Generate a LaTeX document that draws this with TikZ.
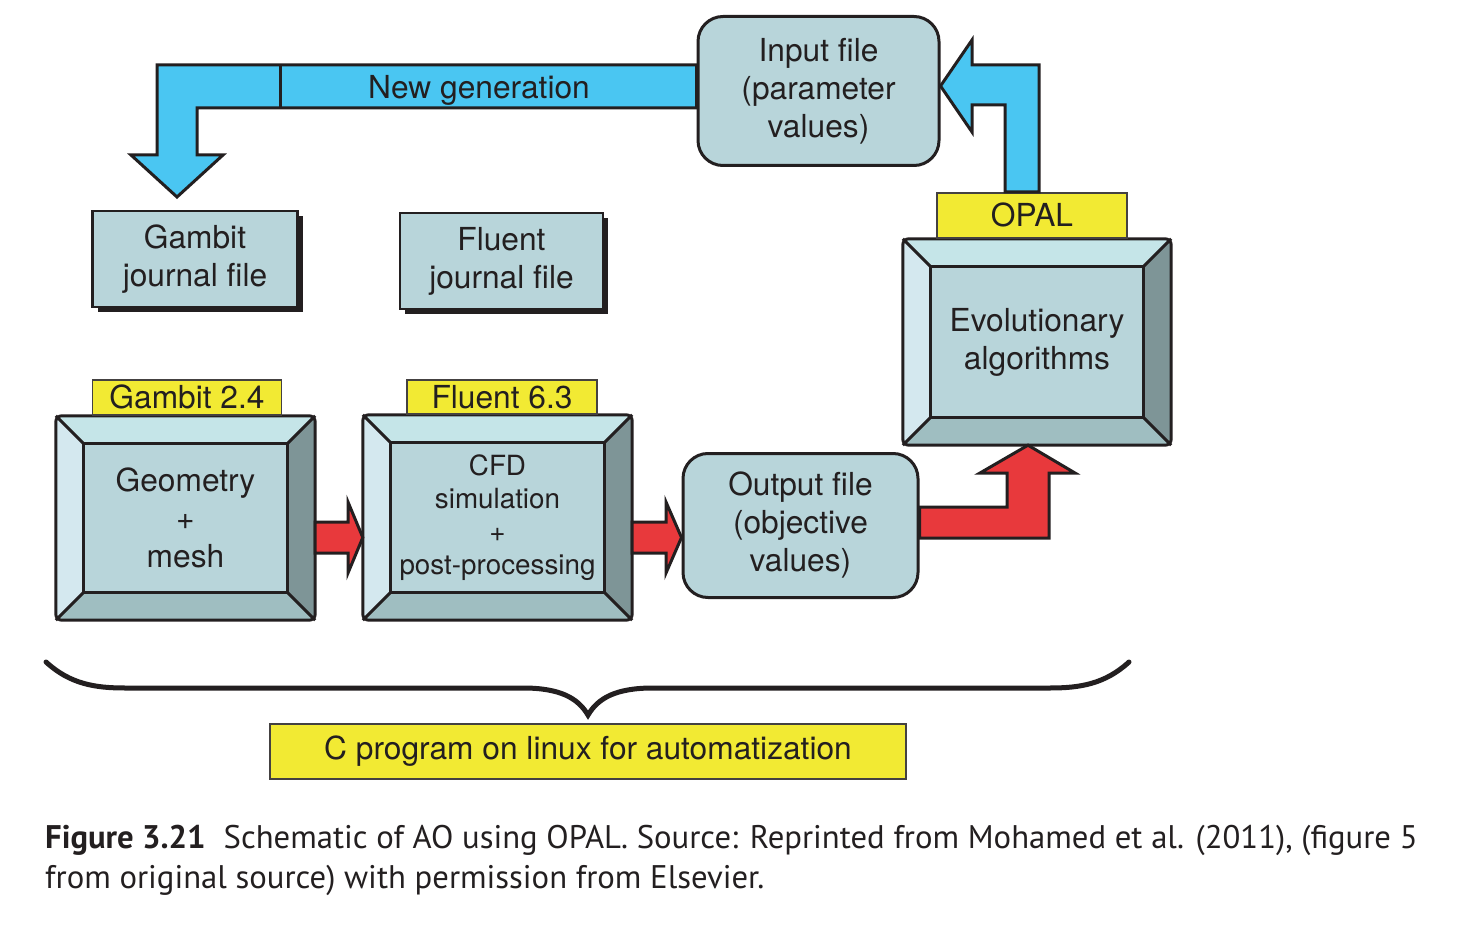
\documentclass[tikz,border=0pt]{standalone}
\usepackage{fontspec}
\setmainfont{TeX Gyre Heros}
\newfontfamily\capfont{PT Sans}
\usetikzlibrary{positioning,backgrounds,shadows}
\definecolor{ink}{HTML}{231F20}
\definecolor{face}{HTML}{B8D5DA}
\definecolor{bevtop}{HTML}{C5E5E8}
\definecolor{bevleft}{HTML}{D4E8EF}
\definecolor{bevright}{HTML}{7E9597}
\definecolor{bevbot}{HTML}{9FBEC1}
\definecolor{tagyellow}{HTML}{F2EA33}
\definecolor{arrblue}{HTML}{4AC6F2}
\definecolor{arrred}{HTML}{E8393C}
\def\mainsize{\fontsize{31.7}{38}\selectfont}
\def\cfdsize{\fontsize{27.8}{33}\selectfont}
\def\bevel#1{
  \begin{scope}[on background layer]
    \coordinate (#1a) at ([xshift=28pt,yshift=-28pt]#1.north west);
    \coordinate (#1b) at ([xshift=-28pt,yshift=-28pt]#1.north east);
    \coordinate (#1c) at ([xshift=-28pt,yshift=28pt]#1.south east);
    \coordinate (#1d) at ([xshift=28pt,yshift=28pt]#1.south west);
    \begin{scope}
      \clip[rounded corners=6pt] (#1.north west) rectangle (#1.south east);
      \fill[face] (#1a) rectangle (#1c);
      \fill[bevtop] (#1.north west) -- (#1.north east) -- (#1b) -- (#1a) -- cycle;
      \fill[bevright] (#1.north east) -- (#1.south east) -- (#1c) -- (#1b) -- cycle;
      \fill[bevbot] (#1.south east) -- (#1.south west) -- (#1d) -- (#1c) -- cycle;
      \fill[bevleft] (#1.south west) -- (#1.north west) -- (#1a) -- (#1d) -- cycle;
    \end{scope}
    \draw[edge] (#1a) rectangle (#1c);
    \draw[edge] (#1.north west) -- (#1a) (#1.north east) -- (#1b) (#1.south east) -- (#1c) (#1.south west) -- (#1d);
    \draw[edge, rounded corners=6pt] (#1.north west) rectangle (#1.south east);
  \end{scope}}

\begin{document}
\begin{tikzpicture}[x=1pt, y=-1pt,
    edge/.style={draw=ink, line width=3pt},
    bevelbox/.style={inner sep=0pt, align=center, text=ink, font=\mainsize},
    tag/.style={fill=tagyellow, draw=ink!85, line width=1.8pt, inner sep=0pt, text=ink, font=\mainsize},
    filebox/.style={fill=face, draw=ink, line width=3pt, rounded corners=25pt, inner sep=0pt, align=center, text=ink, font=\mainsize},
    journal/.style={fill=face, draw=ink, line width=2.5pt, inner sep=0pt, align=center, text=ink, font=\mainsize,
      drop shadow={shadow xshift=5pt, shadow yshift=-5pt, fill=ink, opacity=1}},
    blockarrow/.style={draw=ink, line width=3pt, line join=miter},
    brace/.style={draw=ink, line width=5pt, line cap=round}]

    \useasboundingbox (0,0) rectangle (1473,928);

    \node[bevelbox, minimum width=259pt, minimum height=204pt] (geo) at (185.5,518) {Geometry\\+\\mesh};
    \node[bevelbox, minimum width=269pt, minimum height=205pt, font=\cfdsize] (cfd) at (497.5,517.5) {CFD\\simulation\\+\\post-processing};
    \node[bevelbox, minimum width=268pt, minimum height=206pt] (evo) at (1037,342) {Evolutionary\\algorithms};
    \bevel{geo}
    \bevel{cfd}
    \bevel{evo}

    \node[tag, minimum width=189pt, minimum height=35pt, above=0pt of geo, xshift=1.5pt] (gamver) {Gambit 2.4};
    \node[tag, minimum width=190pt, minimum height=34pt, above=0pt of cfd, xshift=4.5pt] (fluver) {Fluent 6.3};
    \node[tag, minimum width=190pt, minimum height=45pt, above=0pt of evo, xshift=-5pt] (opal) {OPAL};

    \node[filebox, minimum width=241pt, minimum height=149pt] (inp) at (818.5,91) {Input file\\(parameter\\values)};
    \node[filebox, minimum width=235pt, minimum height=144pt] (out) at (800.5,525.5) {Output file\\(objective\\values)};

    \node[journal, minimum width=205pt, minimum height=96pt] (gamjou) at (195,259) {Gambit\\journal file};
    \node[journal, minimum width=203pt, minimum height=96pt] (flujou) at (501.5,261) {Fluent\\journal file};

    \node[tag, minimum width=636pt, minimum height=55pt] (cprog) at (588,751.5) {C program on linux for automatization};

    \fill[arrblue, blockarrow] (inp.west |- 0,65) -- (157,65) -- (157,155) -- (131,155) -- (177,197) -- (223,155)
      -- (197,155) -- (197,108) -- (inp.west |- 0,108) -- cycle;
    \draw[edge] (280,65) -- (280,108);
    \node[anchor=base, text=ink, font=\mainsize] (gen) at (479,99) {New generation};

    \fill[arrblue, blockarrow] (1005,0 |- opal.north) -- (1005,105) -- (972,105) -- (972,132) -- (inp.east |- 0,86)
      -- (972,40) -- (972,65) -- (1039,65) -- (1039,0 |- opal.north) -- cycle;

    \fill[arrred, blockarrow] (geo.east |- 0,522) -- (348,522) -- (348,502) -- (cfd.west |- 0,537.5) -- (348,573)
      -- (348,553) -- (geo.east |- 0,553) -- cycle;
    \fill[arrred, blockarrow] (cfd.east |- 0,522) -- (666,522) -- (666,502) -- (out.west |- 0,537.5) -- (666,573)
      -- (666,553) -- (cfd.east |- 0,553) -- cycle;
    \fill[arrred, blockarrow] (out.east |- 0,507) -- (1007,507) -- (1007,473) -- (980,473) -- (1028,0 |- evo.south)
      -- (1075,473) -- (1049,473) -- (1049,538) -- (out.east |- 0,538) -- cycle;

    \coordinate (tip) at ([yshift=8pt]cprog.north);
    \draw[brace] (46,662) .. controls (70,684) and (95,688) .. (125,688) -- (523,688)
      .. controls (560,688) and (578,698) .. (tip) .. controls (598,698) and (616,688) .. (653,688)
      -- (1050,688) .. controls (1080,688) and (1105,684) .. (1129,662);

    \node[anchor=north west, inner sep=0pt, align=left, text=ink, font=\capfont\fontsize{32.7}{40}\selectfont] (cap) at (45,825)
      {\textbf{Figure 3.21}\hspace{0.55em}Schematic of AO using OPAL. Source: Reprinted from Mohamed et al. (2011), (figure 5\\
       from original source) with permission from Elsevier.};

\end{tikzpicture}
\end{document}
